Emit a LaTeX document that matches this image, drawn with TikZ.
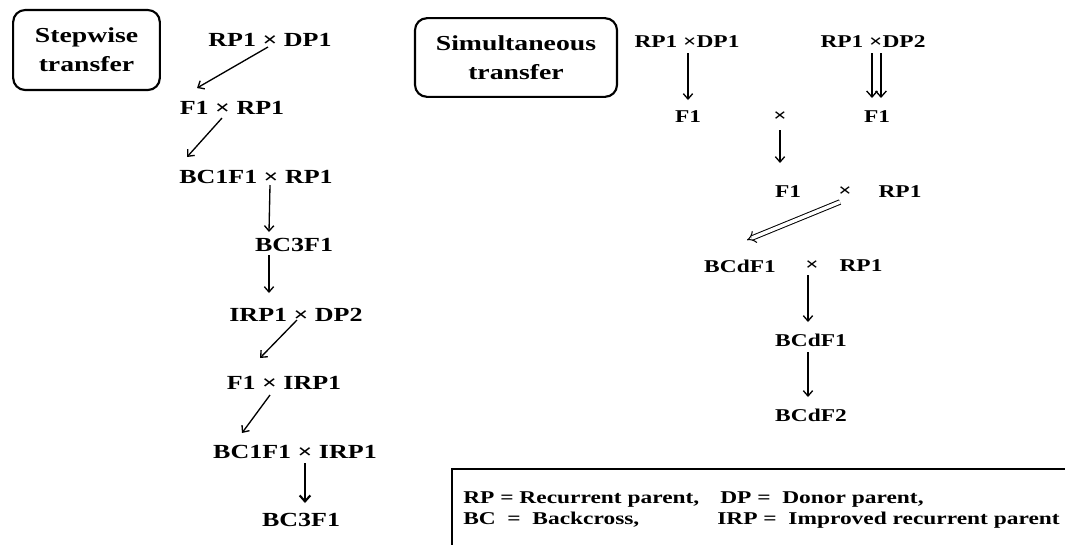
\documentclass[tikz,border=0pt]{standalone}
\usepackage{fontspec}
\setmainfont{Liberation Serif}[FakeStretch=1.3]
\usetikzlibrary{arrows.meta,calc}
\begin{document}
\begin{tikzpicture}[x=0.75pt,y=-0.75pt,
  lbl/.style={inner sep=0pt,font=\fontsize{15}{18}\selectfont\bfseries},
  rl/.style={inner sep=0pt,font=\fontsize{13.5}{16}\selectfont\bfseries},
  titlebox/.style={draw,line width=1.6pt,rounded corners=9pt,align=center,inner sep=0pt,font=\fontsize{16}{22}\selectfont\bfseries},
  arr/.style={line width=1pt,-{Straight Barb[length=4pt,width=7pt]}},
  warr/.style={line width=1pt,-{Straight Barb[length=4.5pt,width=8pt]}},
  thickarr/.style={line width=1.6pt,-{Straight Barb[length=4.5pt,width=8pt]}},
  dblarr/.style={double,double distance=2.6pt,line width=0.75pt,-{Implies[length=5pt]}},
  leg/.style={inner sep=0pt,anchor=west,font=\fontsize{13.5}{16}\selectfont\bfseries}]
\useasboundingbox (0,0) rectangle (1065,544);

% ---------- Stepwise transfer ----------
\node[titlebox,minimum width=110pt,minimum height=60pt] (stepbox) at (86.5,50) {Stepwise\\transfer};
\node[lbl] (n1) at (270,40)  {RP1 × DP1};
\node[lbl] (n2) at (232,108) {F1 × RP1};
\node[lbl] (n3) at (256,177) {BC1F1 × RP1};
\node[lbl] (n4) at (294,245) {BC3F1};
\node[lbl] (n5) at (296,315) {IRP1 × DP2};
\node[lbl] (n6) at (284,383) {F1 × IRP1};
\node[lbl] (n7) at (295,452) {BC1F1 × IRP1};
\node[lbl] (n8) at (301,520) {BC3F1};

\draw[arr] ($(n1)+(-2,7)$)   -- ($(n2)+(-35,-20)$);
\draw[arr] ($(n2)+(-10,10)$) -- ($(n3)+(-69,-20)$);
\draw[arr] ($(n3)+(14,8)$)   -- ($(n4)+(-25,-13)$);
\draw[arr] ($(n4)+(-25,10)$) -- ($(n5)+(-27,-22)$);
\draw[arr] ($(n5)+(1,5)$)    -- ($(n6)+(-24,-25)$);
\draw[arr] ($(n6)+(-14,12)$) -- ($(n7)+(-53,-19)$);
\draw[thickarr] ($(n7)+(10,11)$) -- ($(n8)+(4,-17)$);

% ---------- Simultaneous transfer ----------
\node[titlebox,minimum width=151.5pt,minimum height=59pt] (simbox) at (516,57.5) {Simultaneous\\transfer};
\node[rl] (r1) at (687,42) {RP1 ×DP1};
\node[rl] (r2) at (873,42) {RP1 ×DP2};
\node[rl] (f1a) at (688,117) {F1};
\node[rl] (x1)  at (780,117) {×};
\node[rl] (f1b) at (877,117) {F1};
\node[rl] (f1c) at (788,192) {F1};
\node[rl] (x2)  at (845,192) {×};
\node[rl] (rp1c) at (900,192) {RP1};
\node[rl] (bcd1) at (740,266) {BCdF1};
\node[rl] (x3)  at (812,266) {×};
\node[rl] (rp1d) at (861,266) {RP1};
\node[rl] (bcd2) at (811,340) {BCdF1};
\node[rl] (bcd3) at (811,415) {BCdF2};

\draw[arr] ($(r1)+(1,11)$) -- ($(f1a)+(0,-17)$);
\draw[warr] ($(r2)+(-1,11)$) -- ($(f1b)+(-5,-19)$);
\draw[warr] ($(r2)+(8,11)$)  -- ($(f1b)+(4,-19)$);
\draw[arr] ($(x1)+(0,13)$) -- ($(f1c)+(-8,-29)$);
\draw[dblarr] ($(x2)+(-5,10)$) -- ($(bcd1)+(7,-26)$);
\draw[arr] ($(x3)+(-4,9)$) -- ($(bcd2)+(-3,-18)$);
\draw[arr] ($(bcd2)+(-3,12)$) -- ($(bcd3)+(-3,-18)$);

% ---------- Legend ----------
\draw[line width=1.5pt] (452,560) -- (452,469) -- (1075,469);
\node[leg] (lg1) at (463,500) {RP = Recurrent parent,};
\node[leg] (lg2) at (720,500) {DP =\ \ Donor parent,};
\node[leg] (lg3) at (463,520) {BC\ \ =\ \ Backcross,};
\node[leg] (lg4) at (717,520) {IRP =\ \ Improved recurrent parent};
\end{tikzpicture}
\end{document}
